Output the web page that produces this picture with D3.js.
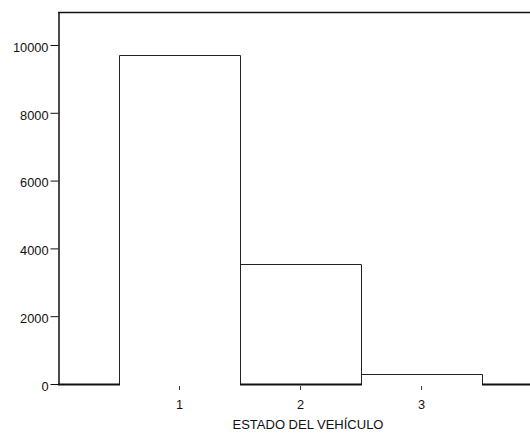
<!DOCTYPE html>
<html>
<head>
<meta charset="utf-8">
<script src="https://cdn.jsdelivr.net/npm/d3@7"></script>
<style>
  html, body { margin: 0; padding: 0; background: #fff; }
  svg { display: block; }
  text { font-family: "Liberation Sans", Arial, sans-serif; fill: #111; }
</style>
</head>
<body>
<svg id="chart" width="530" height="435"></svg>
<script>
// Frequency of each vehicle state code
const categories = [0, 1, 2, 3, 4];
const counts = [0, 9690, 3550, 295, 0];
const xTickValues = [1, 2, 3];
const yTickValues = [0, 2000, 4000, 6000, 8000, 10000];
const xTitle = "ESTADO DEL VEHÍCULO";

const svg = d3.select("#chart");
const plotLeft = 58, plotRight = 530, plotTop = 12, plotBottom = 384;
const tickFont = 12.8;

const x = d3.scaleLinear().domain([0, 3.9]).range([plotLeft, plotRight]);
const y = d3.scaleLinear().domain([0, 10973]).range([plotBottom, plotTop]);

svg.append("clipPath").attr("id", "plot")
  .append("rect").attr("x", plotLeft).attr("y", 0)
  .attr("width", plotRight - plotLeft).attr("height", plotBottom + 2);

const bars = svg.append("g").attr("clip-path", "url(#plot)");
const data = categories.map((c, i) => ({ c, v: counts[i], i }));

// Bar outlines (open at the base)
bars.selectAll("path.bar").data(data).join("path")
  .attr("class", "bar")
  .attr("fill", "none")
  .attr("stroke", "#222")
  .attr("stroke-width", 1)
  .attr("d", d => {
    const x0 = Math.round(x(d.c - 0.5)) + 0.5, x1 = Math.round(x(d.c + 0.5)) + 0.5;
    const yt = Math.round(y(d.v)) + 0.5, yb = y(0);
    return `M${x0},${yb}V${yt}H${x1}V${yb}`;
  });

// Base segments of alternate bars
bars.selectAll("line.base").data(data.filter(d => d.i % 2 === 0)).join("line")
  .attr("class", "base")
  .attr("x1", d => Math.round(x(d.c - 0.5)))
  .attr("x2", d => Math.round(x(d.c + 0.5)) + 1)
  .attr("y1", y(0) + 0.5).attr("y2", y(0) + 0.5)
  .attr("stroke", "#111").attr("stroke-width", 2);

// Top frame line
svg.append("line")
  .attr("x1", plotLeft).attr("x2", plotRight)
  .attr("y1", plotTop + 0.5).attr("y2", plotTop + 0.5)
  .attr("stroke", "#111").attr("stroke-width", 1.5);

// Y axis
const yAxis = svg.append("g")
  .attr("transform", `translate(${plotLeft + 0.5},0)`)
  .call(d3.axisLeft(y).tickValues(yTickValues).tickFormat(d3.format("d"))
    .tickSize(8).tickSizeOuter(0).tickPadding(2));
yAxis.select(".domain").attr("stroke", "#111").attr("stroke-width", 1.5);
yAxis.selectAll(".tick line").attr("stroke", "#111");
yAxis.selectAll("text").attr("font-size", tickFont).attr("dy", "0.5em")
  .style("font-family", "'Liberation Sans', Arial, sans-serif").attr("fill", "#111");

// X axis (ticks only, no baseline)
const xAxis = svg.append("g")
  .attr("transform", `translate(0,${plotBottom + 2})`)
  .call(d3.axisBottom(x).tickValues(xTickValues).tickFormat(d3.format("d"))
    .tickSize(4).tickSizeOuter(0).tickPadding(9.5));
xAxis.select(".domain").remove();
xAxis.selectAll(".tick line").attr("stroke", "#333");
xAxis.selectAll("text").attr("font-size", tickFont)
  .style("font-family", "'Liberation Sans', Arial, sans-serif").attr("fill", "#111");

// X axis title
svg.append("text")
  .attr("x", 308).attr("y", 429)
  .attr("text-anchor", "middle")
  .attr("font-size", 13)
  .text(xTitle);
</script>
</body>
</html>
